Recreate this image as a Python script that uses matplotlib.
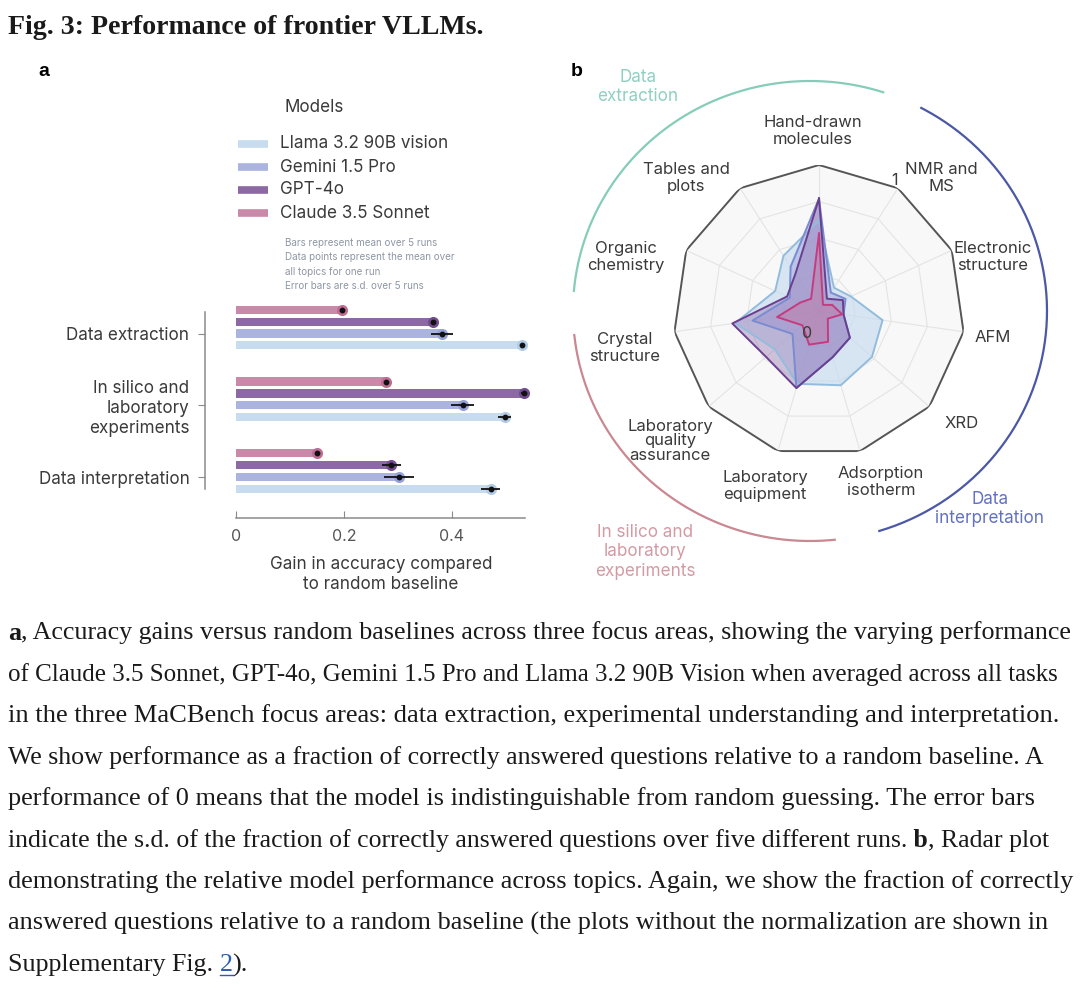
import numpy as np
import matplotlib
matplotlib.use("Agg")
import matplotlib.pyplot as plt

W, H = 1080, 989
SANS = ["Inter", "DejaVu Sans"]
SERIF = ["Liberation Serif", "DejaVu Serif"]
INK = "#3a3a3a"
FS = 12.3

# ---------- panel a data ----------
models = ["Llama 3.2 90B vision", "Gemini 1.5 Pro", "GPT-4o", "Claude 3.5 Sonnet"]
bar_colors = ["#c8dcef", "#abb3df", "#8d69a4", "#c98aa9"]
dot_colors = ["#b2cbe6", "#96a2d8", "#744b8f", "#bf6c96"]
areas = ["Data extraction", "In silico and\nlaboratory\nexperiments", "Data interpretation"]

gain_llama = [0.531, 0.498, 0.472]
gain_gemini = [0.382, 0.420, 0.302]
gain_gpt = [0.365, 0.534, 0.288]
gain_claude = [0.196, 0.278, 0.150]
sd_llama = [0.0, 0.012, 0.018]
sd_gemini = [0.020, 0.022, 0.028]
sd_gpt = [0.004, 0.005, 0.018]
sd_claude = [0.0, 0.0, 0.0]

notes = ["Bars represent mean over 5 runs",
         "Data points represent the mean over",
         "all topics for one run",
         "Error bars are s.d. over 5 runs"]

# ---------- panel b data ----------
topics = ["Hand-drawn\nmolecules", "NMR and\nMS", "Electronic\nstructure", "AFM", "XRD",
          "Adsorption\nisotherm", "Laboratory\nequipment", "Laboratory\nquality\nassurance",
          "Crystal\nstructure", "Organic\nchemistry", "Tables and\nplots"]
radar_llama = [0.62, 0.19, 0.24, 0.44, 0.48, 0.53, 0.52, 0.40, 0.58, 0.33, 0.45]
radar_gemini = [0.77, 0.15, 0.20, 0.17, 0.28, 0.33, 0.55, 0.24, 0.46, 0.22, 0.36]
radar_gpt = [0.77, 0.10, 0.18, 0.17, 0.28, 0.33, 0.55, 0.48, 0.60, 0.24, 0.30]
radar_claude = [0.53, 0.05, 0.10, 0.16, 0.08, 0.22, 0.24, 0.15, 0.29, 0.14, 0.10]

# label centres (pixels) for the radar topics
topic_pos = [(813, 131), (941, 178), (993, 257), (993, 337), (962, 424), (881, 482),
             (765, 486), (670, 441), (625, 348), (626, 257), (686, 178)]

caption = [
    [("a", "bold", None), (", Accuracy gains versus random baselines across three focus areas, showing the varying performance", "normal", None)],
    [("of Claude 3.5 Sonnet, GPT-4o, Gemini 1.5 Pro and Llama 3.2 90B Vision when averaged across all tasks", "normal", None)],
    [("in the three MaCBench focus areas: data extraction, experimental understanding and interpretation.", "normal", None)],
    [("We show performance as a fraction of correctly answered questions relative to a random baseline. A", "normal", None)],
    [("performance of 0 means that the model is indistinguishable from random guessing. The error bars", "normal", None)],
    [("indicate the s.d. of the fraction of correctly answered questions over five different runs.", "normal", None), (" b", "bold", None), (", Radar plot", "normal", None)],
    [("demonstrating the relative model performance across topics. Again, we show the fraction of correctly", "normal", None)],
    [("answered questions relative to a random baseline (the plots without the normalization are shown in", "normal", None)],
    [("Supplementary Fig. ", "normal", None), ("2", "normal", "#2a5db0"), (").", "normal", None)],
]
# right end of each caption line in the reference (pixels); None = ragged last line
caption_ends = [1075, 1062, 1066, 1052, 1040, 1057, 1075, 1050, None]

fig = plt.figure(figsize=(W / 100, H / 100), dpi=100)
fig.patch.set_facecolor("white")
bg = fig.add_axes([0, 0, 1, 1])
bg.set_xlim(0, W)
bg.set_ylim(H, 0)
bg.axis("off")
renderer = fig.canvas.get_renderer()


def text_width(parts, size):
    w = 0
    for txt, wt, col in parts:
        t = bg.text(0, 0, txt, fontsize=size, family=SERIF, fontweight=wt)
        w += t.get_window_extent(renderer=renderer).width
        t.remove()
    return w


# title and panel letters
title_parts = [("Fig. 3: Performance of frontier VLLMs.", "bold", None)]
ts = 15 * 475 / text_width(title_parts, 15)
bg.text(8, 27, title_parts[0][0], fontsize=ts, family=SERIF, fontweight="bold",
        va="center", color="#1a1a1a")
bg.text(38, 72, "a", fontsize=14, fontweight="bold", family=["Liberation Sans"], va="center")
bg.text(571, 72, "b", fontsize=14, fontweight="bold", family=["Liberation Sans"], va="center")

# ---------- panel a ----------
axb = fig.add_axes([236 / W, 1 - 518 / H, 302 / W, 218 / H])
axb.set_xlim(0, 0.56)
axb.set_ylim(2.571, -0.467)
gains = [gain_llama, gain_gemini, gain_gpt, gain_claude]
sds = [sd_llama, sd_gemini, sd_gpt, sd_claude]
offsets = [1, 0, -1, -2]
step = 0.165
ypos = np.arange(len(areas))
for g, s, off, bc, dc in zip(gains, sds, offsets, bar_colors, dot_colors):
    y = ypos + off * step
    axb.barh(y, g, height=0.115, color=bc, zorder=2)
    axb.scatter(g, y, s=64, color=dc, zorder=3, linewidths=0)
    axb.errorbar(g, y, xerr=s, fmt="o", color="#111111", ms=3.2, elinewidth=1.3,
                 capsize=0, zorder=4)

for side in ["top", "right"]:
    axb.spines[side].set_visible(False)
for side in ["left", "bottom"]:
    axb.spines[side].set_color("#8a8a8a")
    axb.spines[side].set_linewidth(1.1)
axb.spines["left"].set_position(("outward", 22.5))
axb.spines["left"].set_bounds(-0.30, 2.17)
axb.spines["bottom"].set_bounds(0, 0.535)
axb.set_yticks(ypos)
axb.set_yticklabels(areas, fontsize=FS, family=SANS, color=INK, linespacing=1.22)
axb.set_xticks([0, 0.2, 0.4])
axb.set_xticklabels(["0", "0.2", "0.4"], fontsize=11.5, family=SANS, color="#555555")
axb.tick_params(axis="y", length=5, color="#8a8a8a", pad=6)
axb.tick_params(axis="x", direction="in", length=5, color="#8a8a8a", pad=8)
axb.set_xlabel("Gain in accuracy compared\nto random baseline", fontsize=FS, family=SANS,
               color=INK, linespacing=1.22)
axb.xaxis.set_label_coords(0.48, -0.175)
axb.patch.set_alpha(0)

# legend
bg.text(284, 108, "Models", fontsize=FS, family=SANS, color=INK, va="center")
for i, (m, c) in enumerate(zip(models, bar_colors)):
    y = 144 + i * 23
    bg.plot([238, 268], [y, y], color=c, lw=5.5, solid_capstyle="butt")
    bg.text(280, y, m, fontsize=FS, family=SANS, color=INK, va="center")
for i, n in enumerate(notes):
    bg.text(285, 243 + i * 14.3, n, fontsize=7.1, family=SANS, color="#8e97a5", va="center")

# ---------- panel b ----------
cx, cy, R = 819, 311, 146
axr = fig.add_axes([(cx - R) / W, 1 - (cy + R) / H, 2 * R / W, 2 * R / H], polar=True)
axr.set_theta_zero_location("N")
axr.set_theta_direction(-1)
axr.set_ylim(0, 1)
axr.set_axis_off()
n = len(topics)
theta = np.linspace(0, 2 * np.pi, n, endpoint=False)
tc = np.append(theta, theta[0])

axr.fill(tc, np.ones(n + 1), color="#f8f8f8", zorder=0)
for lev in [0.25, 0.5, 0.75]:
    axr.plot(tc, np.full(n + 1, lev), color="#e4e4e4", lw=0.8, zorder=1)
for t in theta:
    axr.plot([t, t], [0, 1], color="#e4e4e4", lw=0.8, zorder=1)
axr.plot(tc, np.ones(n + 1), color="#555555", lw=1.4, zorder=6)

radar = [radar_llama, radar_gemini, radar_gpt, radar_claude]
fills = ["#c6dcf0", "#a3ace0", "#9473b0", "#c6709e"]
falpha = [0.65, 0.55, 0.42, 0.4]
edges = ["#93bcdc", "#7a8bd0", "#6a3f8f", "#c43c80"]
for vals, fc, fa, ec in zip(radar, fills, falpha, edges):
    v = np.append(vals, vals[0])
    axr.fill(tc, v, color=fc, alpha=fa, zorder=2, lw=0)
    axr.plot(tc, v, color=ec, lw=1.4, zorder=3)

axr.text(theta[1], 1.0, "1", ha="right", va="bottom", fontsize=11.5, family=SANS, color=INK)
axr.annotate("0", xy=(0, 0), xytext=(-12, -22), textcoords="offset pixels", ha="center",
             va="center", fontsize=11.5, family=SANS, color=INK, zorder=7)

for lab, (x, y) in zip(topics, topic_pos):
    ls = 1.0 if lab.count("\n") == 2 else 1.22
    bg.text(x, y, lab, ha="center", va="center", multialignment="center", fontsize=12,
            family=SANS, color=INK, linespacing=ls)

# focus-area arcs around the radar
ex, ey, rx, ry = 810, 311, 237, 230
arcs = [(72, 175, "#86cdb9"), (-73, 62, "#4b58a6"), (186, 276, "#c98892")]
for a0, a1, col in arcs:
    t = np.radians(np.linspace(a0, a1, 200))
    bg.plot(ex + rx * np.cos(t), ey - ry * np.sin(t), color=col, lw=1.6)
bg.text(638, 87, "Data\nextraction", ha="center", va="center", fontsize=FS, family=SANS,
        color="#8fd0c0", linespacing=1.2)
bg.text(990, 509, "Data\ninterpretation", ha="center", va="center", fontsize=FS,
        family=SANS, color="#6371c2", linespacing=1.2)
bg.text(645, 552, "In silico and\nlaboratory\nexperiments", ha="center", va="center",
        fontsize=FS, family=SANS, color="#d49aa4", linespacing=1.2)

# ---------- caption ----------
sizes = [15 * (end - 8) / text_width(parts, 15) if end else None
         for parts, end in zip(caption, caption_ends)]
mean_size = np.mean([s for s in sizes if s])
for i, parts in enumerate(caption):
    cs = sizes[i] or mean_size
    x = 8
    y = 633 + i * 41.5
    for txt, wt, col in parts:
        t = bg.text(x, y, txt, fontsize=cs, family=SERIF, fontweight=wt,
                    color=col or "#1a1a1a", va="center")
        bb = t.get_window_extent(renderer=renderer)
        if col:
            bg.plot([x, x + bb.width], [y + 10, y + 10], color=col, lw=1)
        x += bb.width

fig.savefig("out.png", dpi=100, facecolor="white")
